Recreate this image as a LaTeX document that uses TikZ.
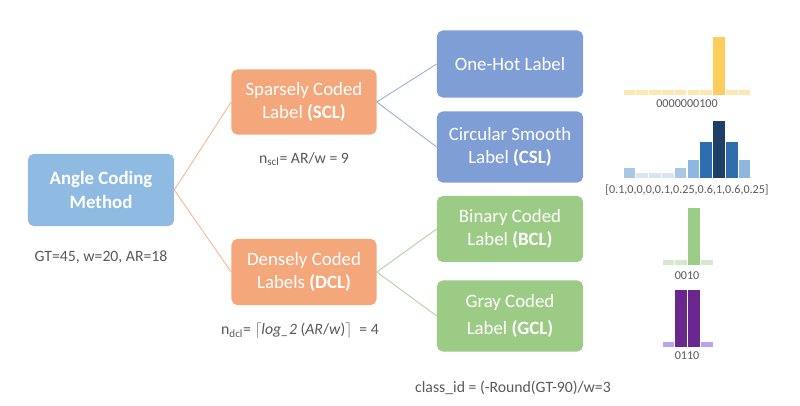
\documentclass[tikz,border=0pt]{standalone}
\usepackage{fontspec}
\setmainfont{Carlito}
\definecolor{angleblue}{RGB}{143,187,226}
\definecolor{codeorange}{RGB}{244,167,123}
\definecolor{sparseblue}{RGB}{127,158,214}
\definecolor{densegreen}{RGB}{156,203,134}
\definecolor{notegray}{RGB}{89,89,89}
\definecolor{ohfaint}{RGB}{253,232,178}
\definecolor{ohbar}{RGB}{255,205,92}
\definecolor{cslZ}{RGB}{218,229,242}
\definecolor{cslA}{RGB}{168,198,230}
\definecolor{cslB}{RGB}{141,182,225}
\definecolor{cslC}{RGB}{46,110,175}
\definecolor{cslD}{RGB}{30,63,104}
\definecolor{bclfaint}{RGB}{214,233,204}
\definecolor{bclbar}{RGB}{156,205,136}
\definecolor{gclfaint}{RGB}{182,164,236}
\definecolor{gclbar}{RGB}{106,40,142}
\tikzset{
  box/.style={rounded corners=4pt,text=white,align=center,inner sep=0pt,
              minimum width=3.65cm,minimum height=1.7cm,
              font=\fontsize{13.4}{16.5}\selectfont},
  note/.style={text=notegray,font=\fontsize{11.2}{13}\selectfont,inner sep=0pt},
  code/.style={text=notegray,font=\fontsize{8.6}{10}\selectfont,inner sep=0pt},
  link/.style={line width=0.6pt}
}
\begin{document}
\begin{tikzpicture}[x=0.025cm,y=-0.025cm]
\useasboundingbox (0,0) rectangle (800,406);

    \node[box,fill=angleblue,minimum height=1.8cm] (angle) at (101,190) {\bfseries Angle Coding\\\bfseries Method};

    \node[box,fill=codeorange,minimum width=3.625cm,minimum height=1.625cm] (scl) at (304,102) {Sparsely Coded\\Label \textbf{(SCL)}};
    \node[box,fill=codeorange,minimum width=3.625cm,minimum height=1.65cm] (dcl) at (304,272) {Densely Coded\\Labels \textbf{(DCL)}};

    \node[box,fill=sparseblue,minimum height=1.675cm] (onehot) at (510,64) {One-Hot Label};
    \node[box,fill=sparseblue,minimum height=1.775cm] (csl) at (510,147) {Circular Smooth\\Label \textbf{(CSL)}};
    \node[box,fill=densegreen,minimum height=1.65cm] (bcl) at (510,229) {Binary Coded\\Label \textbf{(BCL)}};
    \node[box,fill=densegreen,minimum height=1.775cm,
          font=\fontsize{13.4}{19}\selectfont] (gcl) at (510,316) {Gray Coded\\Label \textbf{(GCL)}};

    \node[note] (given) at (101,257) {GT=45, w=20, AR=18};
    \node[note] (nscl) at (304,159) {n\textsubscript{scl}= AR/w = 9};
    \node[note] (ndcl) at (300,331) {n\textsubscript{dcl}= $\lceil$\textit{log\_2} (\textit{AR}/\textit{w})$\rceil$\ \ = 4};
    \node[note] (classid) at (513,388) {class\_id = (-Round(GT-90)/w=3};

% connectors
    \draw[link,draw=codeorange!85] (angle.east) -- (scl.west);
    \draw[link,draw=codeorange!85] (angle.east) -- (dcl.west);
    \draw[link,draw=sparseblue!85] (scl.east) -- (onehot.west);
    \draw[link,draw=sparseblue!85] (scl.east) -- (csl.west);
    \draw[link,draw=densegreen!85] (dcl.east) -- (bcl.west);
    \draw[link,draw=densegreen!85] (dcl.east) -- (gcl.west);

% one-hot bars
    \foreach \i in {0,...,9}
        \fill[ohfaint] ({623.6+\i*12.8},90) rectangle ++(11.6,5);
    \fill[ohbar] ({623.6+7*12.8},37) rectangle ++(11.6,58);
    \node[code] (ohcode) at (687,104) {0000000100};

% circular smooth bars
    \foreach \v/\c [count=\i from 0] in {0.1/cslA,0/cslZ,0/cslZ,0/cslZ,0.1/cslA,0.25/cslB,0.6/cslC,1/cslD,0.6/cslC,0.25/cslB}
        \fill[\c] ({623.6+\i*12.8},{173-52*\v}) rectangle ++(11.6,{5+52*\v});
    \node[code] (cslcode) at (687,190) {[0.1,0,0,0,0.1,0.25,0.6,1,0.6,0.25]};

% binary bars
    \foreach \i in {0,1,3}
        \fill[bclfaint] ({662.6+\i*12.8},260) rectangle ++(11.6,5);
    \fill[bclbar] ({662.6+2*12.8},208) rectangle ++(11.6,57);
    \node[code] (bclcode) at (687,276) {0010};

% gray bars
    \foreach \i in {0,3}
        \fill[gclfaint] ({662.6+\i*12.8},342) rectangle ++(11.6,5);
    \foreach \i in {1,2}
        \fill[gclbar] ({662.6+\i*12.8},290) rectangle ++(11.6,57);
    \node[code] (gclcode) at (687,356) {0110};
\end{tikzpicture}
\end{document}
